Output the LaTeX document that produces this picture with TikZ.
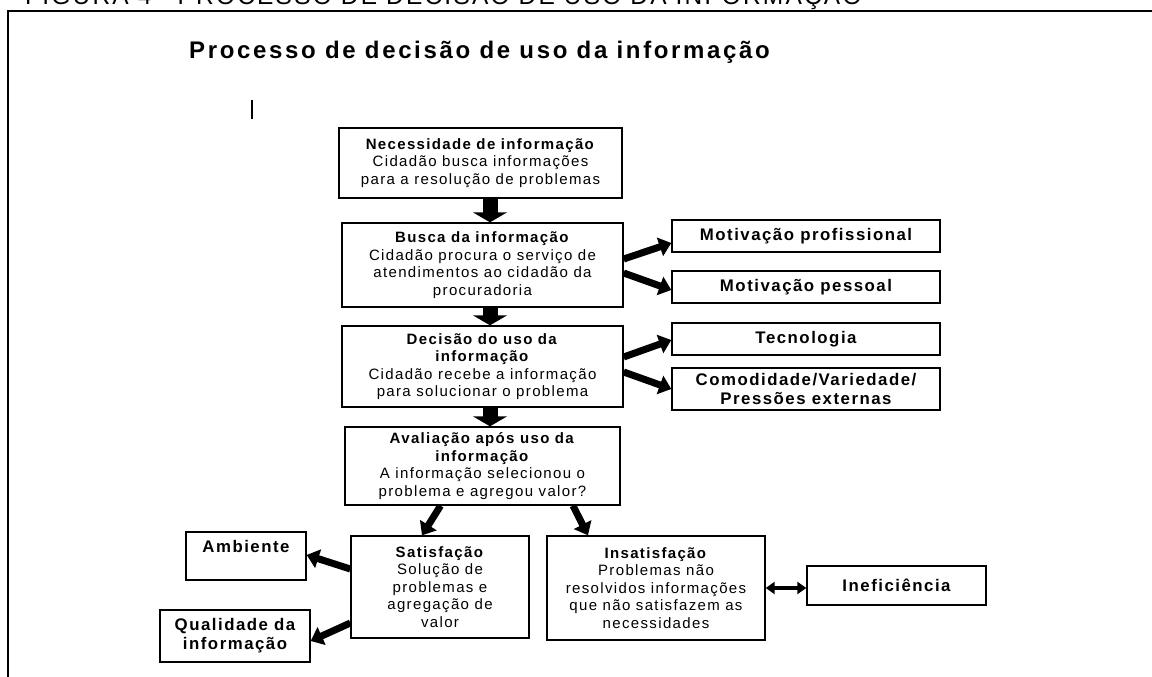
\documentclass[tikz,border=0pt]{standalone}
\usepackage{fontspec}
\setmainfont{Liberation Sans}[LetterSpace=9]
\usetikzlibrary{arrows.meta}

\begin{document}
\begin{tikzpicture}[x=1pt,y=-1pt]
\tikzstyle caixa=[draw, line width=1.4pt, align=center, inner sep=0pt, font=\fontsize{15}{17.5}\selectfont]
\tikzstyle lateral=[caixa, font=\fontsize{16.8}{19}\selectfont\bfseries]
\tikzstyle setagrossa=[line width=15pt, -{Triangle[width=34pt,length=10pt]}]
\tikzstyle seta=[line width=7pt, -{Triangle[width=19pt,length=12pt]}]
\tikzstyle setadupla=[line width=4pt, {Triangle[width=12pt,length=9pt]}-{Triangle[width=12pt,length=9pt]}]

\useasboundingbox (0,0) rectangle (1152,677);
\clip (0,0) rectangle (1152,677);

% moldura e titulos
\node[anchor=base west, inner sep=0pt, font=\fontsize{24.5}{27}\selectfont] (figura) at (25,4.5) {FIGURA 4 - PROCESSO DE DECISÃO DE USO DA INFORMAÇÃO};
\draw[line width=2pt] (1152,11) -- (8,11) -- (8,677);
\node[anchor=base west, inner sep=0pt, font=\fontsize{24}{28}\selectfont\bfseries\addfontfeature{LetterSpace=11}] (titulo) at (189,59) {Processo de decisão de uso da informação};
\draw[line width=1.8pt] (252,100) -- (252,119);

% coluna central
\node[caixa, minimum width=283pt, minimum height=70pt] (necessidade) at (480.5,163) {\textbf{Necessidade de informação}\\Cidadão busca informações\\para a resolução de problemas};
\node[caixa, minimum width=281pt, minimum height=84pt] (busca) at (482.5,265) {\textbf{Busca da informação}\\Cidadão procura o serviço de\\atendimentos ao cidadão da\\procuradoria};
\node[caixa, minimum width=281pt, minimum height=81pt] (decisao) at (482.5,366.5) {\textbf{Decisão do uso da}\\\textbf{informação}\\Cidadão recebe a informação\\para solucionar o problema};
\node[caixa, minimum width=275pt, minimum height=78pt] (avaliacao) at (482.5,466) {\textbf{Avaliação após uso da}\\\textbf{informação}\\A informação selecionou o\\problema e agregou valor?};

% caixas laterais
\node[lateral, minimum width=268pt, minimum height=32pt] (profissional) at (806,236) {Motivação profissional};
\node[lateral, minimum width=268pt, minimum height=32pt] (pessoal) at (806,287) {Motivação pessoal};
\node[lateral, minimum width=268pt, minimum height=32pt] (tecnologia) at (806,339) {Tecnologia};
\node[lateral, minimum width=268pt, minimum height=42pt] (comodidade) at (806,389) {Comodidade/Variedade/\\Pressões externas};

% resultados
\node[caixa, minimum width=178pt, minimum height=102pt] (satisfacao) at (440,587) {\textbf{Satisfação}\\Solução de\\problemas e\\agregação de\\valor};
\node[caixa, minimum width=218pt, minimum height=104pt] (insatisfacao) at (656,588) {\textbf{Insatisfação}\\Problemas não\\resolvidos informações\\que não satisfazem as\\necessidades};
\node[lateral, minimum width=120pt, minimum height=48pt] (ambiente) at (246,556) {Ambiente\\\mbox{}};
\node[lateral, minimum width=150pt, minimum height=52pt] (qualidade) at (235,636) {Qualidade da\\informação};
\node[lateral, minimum width=179pt, minimum height=39pt] (ineficiencia) at (896.5,585.5) {Ineficiência};

% setas
\coordinate (eixo) at (490,0);
\draw[setagrossa] (necessidade.south -| eixo) -- (busca.north -| eixo);
\draw[setagrossa] (busca.south -| eixo) -- (decisao.north -| eixo);
\draw[setagrossa] (decisao.south -| eixo) -- (avaliacao.north -| eixo);

\draw[seta] ([yshift=6pt]busca.east) -- ([yshift=-7pt]profissional.west);
\draw[seta] ([yshift=-8pt]busca.east) -- ([yshift=-3pt]pessoal.west);
\draw[seta] ([yshift=9.5pt]decisao.east) -- ([yshift=-1pt]tecnologia.west);
\draw[seta] ([yshift=-5.5pt]decisao.east) -- (comodidade.west);

\draw[seta] ([xshift=-42pt]avaliacao.south) -- ([xshift=-18pt]satisfacao.north);
\draw[seta] ([xshift=90.5pt]avaliacao.south) -- ([xshift=-68pt]insatisfacao.north);
\draw[seta] ([yshift=18pt]satisfacao.west) -- ([yshift=1pt]ambiente.east);
\draw[seta] ([yshift=-36pt]satisfacao.west) -- ([yshift=-5pt]qualidade.east);
\draw[setadupla] (insatisfacao.east) -- (insatisfacao.east -| ineficiencia.west);
\end{tikzpicture}
\end{document}
